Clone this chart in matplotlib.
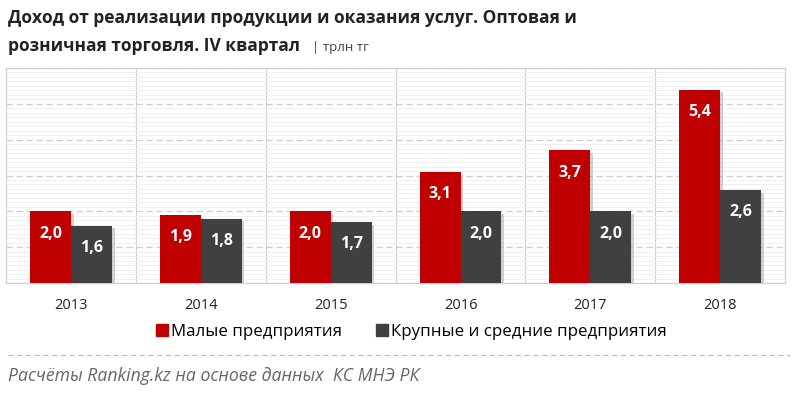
import matplotlib.pyplot as plt
import matplotlib.patheffects as pe
import numpy as np

years = ["2013", "2014", "2015", "2016", "2017", "2018"]
small = [2.0, 1.9, 2.0, 3.1, 3.7, 5.4]
large = [1.6, 1.8, 1.7, 2.0, 2.0, 2.6]
small_labels = ["2,0", "1,9", "2,0", "3,1", "3,7", "5,4"]
large_labels = ["1,6", "1,8", "1,7", "2,0", "2,0", "2,6"]

RED = "#c00000"
DARK = "#404040"

plt.rcParams["font.family"] = ["Open Sans", "DejaVu Sans"]

fig = plt.figure(figsize=(8, 3.94), dpi=100)
ax = fig.add_axes([0.0075, 1 - 283 / 394, 0.974, 215 / 394])

x = np.arange(len(years))
w = 0.315
shadow = [pe.SimplePatchShadow(offset=(2, -2), shadow_rgbFace="#999999", alpha=0.45), pe.Normal()]
b1 = ax.bar(x - w / 2, small, w, color=RED, zorder=3, path_effects=shadow)
b2 = ax.bar(x + w / 2, large, w, color=DARK, zorder=3, path_effects=shadow)

for bars, labels in ((b1, small_labels), (b2, large_labels)):
    for bar, lab in zip(bars, labels):
        ax.annotate(lab, (bar.get_x() + bar.get_width() / 2, bar.get_height()),
                    xytext=(0, -16), textcoords="offset points", ha="center", va="center",
                    color="white", fontsize=11.5, fontweight="bold", zorder=4)

ax.set_xlim(-0.5, len(years) - 0.5)
ax.set_ylim(0, 6)
ax.set_yticks(np.arange(0, 7, 1))
ax.set_yticks(np.arange(0, 6, 0.125), minor=True)
ax.grid(axis="y", which="minor", color="#f0f0f0", linewidth=0.8, zorder=0)
ax.grid(axis="y", which="major", color="#cccccc", linestyle=(0, (5, 3)), linewidth=0.9, zorder=1)
for sep in x[:-1] + 0.5:
    ax.axvline(sep, color="#d0d0d0", linewidth=0.9, zorder=1)
ax.set_yticklabels([])
ax.tick_params(axis="y", length=0, which="both")
ax.set_xticks(x)
ax.set_xticklabels(years, fontsize=10.5, color="#222222")
ax.tick_params(axis="x", length=0, pad=11)
for s in ax.spines.values():
    s.set_color("#d0d0d0")
    s.set_linewidth(0.9)

fig.text(0.01, 1 - 18 / 394, "Доход от реализации продукции и оказания услуг. Оптовая и",
         fontsize=12.5, fontweight="bold", color="#222222", va="center")
fig.text(0.01, 1 - 46 / 394, "розничная торговля. IV квартал", fontsize=12.5,
         fontweight="bold", color="#222222", va="center")
fig.text(312 / 800, 1 - 47 / 394, "| трлн тг", fontsize=9.5, color="#444444", va="center")

handles = [plt.Rectangle((0, 0), 1, 1, color=RED), plt.Rectangle((0, 0), 1, 1, color=DARK)]
fig.legend(handles, ["Малые предприятия", "Крупные и средние предприятия"],
           loc="center", bbox_to_anchor=(0.514, 1 - 332 / 394), ncol=2, frameon=False,
           fontsize=12.2, handlelength=0.75, handleheight=0.75, handletextpad=0.15,
           columnspacing=2.0)

fig.add_artist(plt.Line2D([8 / 800, 790 / 800], [1 - 355 / 394] * 2, color="#bbbbbb",
                          linestyle=(0, (4, 3)), linewidth=0.9))
fig.text(0.01, 1 - 376 / 394, "Расчёты Ranking.kz на основе данных  КС МНЭ РК",
         fontsize=12.7, style="italic", color="#666666", va="center")

fig.savefig("out.png", dpi=100)
